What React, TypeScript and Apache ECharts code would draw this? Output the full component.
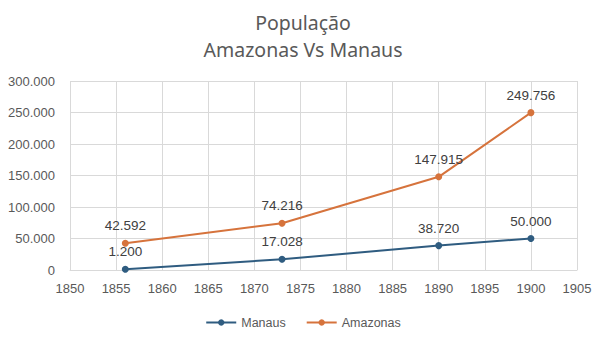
import React, { useEffect, useRef } from "react";
import * as echarts from "echarts";

const years = [1856, 1873, 1890, 1900];
const manaus = [1200, 17028, 38720, 50000];
const amazonas = [42592, 74216, 147915, 249756];
const titleLines = ["População", "Amazonas Vs Manaus"];

const fmt = (v: number) => v.toLocaleString("de-DE");

export default function App() {
  const ref = useRef<HTMLDivElement>(null);
  useEffect(() => {
    const chart = echarts.init(ref.current!, null, { renderer: "svg" });
    const labelStyle = {
      show: true,
      position: "top" as const,
      distance: 7,
      color: "#404040",
      fontSize: 13.5,
      fontFamily: "Liberation Sans",
      formatter: (p: any) => fmt(p.value[1]),
    };
    chart.setOption({
      animation: false,
      backgroundColor: "#ffffff",
      title: {
        text: titleLines.join("\n"),
        left: "center",
        top: 4,
        textStyle: {
          fontFamily: "Noto Sans",
          fontSize: 19.5,
          fontWeight: "normal",
          color: "#595959",
          lineHeight: 27,
        },
      },
      legend: {
        bottom: 10,
        left: "center",
        itemWidth: 30,
        itemHeight: 8,
        itemGap: 20,
        textStyle: { fontFamily: "Liberation Sans", fontSize: 12.5, color: "#595959" },
        data: ["Manaus", "Amazonas"],
      },
      grid: { left: 70, right: 29, top: 81, bottom: 74 },
      xAxis: {
        type: "value",
        min: 1850,
        max: 1905,
        interval: 5,
        axisLine: { show: true, lineStyle: { color: "#D9D9D9" } },
        axisTick: { show: false },
        splitLine: { show: true, lineStyle: { color: "#D9D9D9" } },
        axisLabel: {
          fontFamily: "Liberation Sans",
          fontSize: 13,
          color: "#595959",
          margin: 12,
          formatter: (v: number) => String(v),
        },
      },
      yAxis: {
        type: "value",
        min: 0,
        max: 300000,
        interval: 50000,
        axisLine: { show: false },
        axisTick: { show: false },
        splitLine: { show: true, lineStyle: { color: "#D9D9D9" } },
        axisLabel: {
          fontFamily: "Liberation Sans",
          fontSize: 13,
          color: "#595959",
          margin: 15,
          formatter: (v: number) => fmt(v),
        },
      },
      series: [
        {
          name: "Manaus",
          type: "line",
          data: years.map((y, i) => [y, manaus[i]]),
          symbol: "circle",
          symbolSize: 7,
          itemStyle: { color: "#2F5C80" },
          lineStyle: { color: "#2F5C80", width: 2 },
          label: labelStyle,
        },
        {
          name: "Amazonas",
          type: "line",
          data: years.map((y, i) => [y, amazonas[i]]),
          symbol: "circle",
          symbolSize: 7,
          itemStyle: { color: "#D6733C" },
          lineStyle: { color: "#D6733C", width: 2 },
          label: labelStyle,
        },
      ],
    });
    return () => chart.dispose();
  }, []);
  return <div ref={ref} style={{ width: 606, height: 344, margin: -8 }} />;
}
